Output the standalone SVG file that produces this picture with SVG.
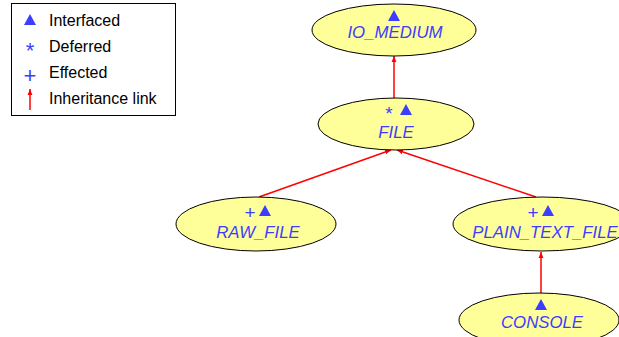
<svg xmlns="http://www.w3.org/2000/svg" width="619" height="337" viewBox="0 0 619 337">
<defs>
<style>
.node{fill:#ffff99;stroke:#000;stroke-width:1}
.name{font-family:"Liberation Sans",Arial,sans-serif;font-size:16.8px;font-style:italic;fill:#3d3dff;text-anchor:middle}
.sym{font-family:"Liberation Sans",Arial,sans-serif;font-size:22px;fill:#3d3dff;text-anchor:middle}
.nsym{font-family:"Liberation Sans",Arial,sans-serif;font-size:19px;fill:#3d3dff;text-anchor:middle}
.tri{fill:#3d3dff}
.leg{font-family:"Liberation Sans",Arial,sans-serif;font-size:16px;fill:#000}
.edge{stroke:#ff0000;stroke-width:1.5;fill:none}
</style>
<marker id="arr" viewBox="0 0 10 10" refX="10" refY="5" markerWidth="6" markerHeight="6" markerUnits="userSpaceOnUse" orient="auto">
<path d="M0,1 L10,5 L0,9 z" fill="#ff0000"/>
</marker>
<path id="t" d="M-6,5 L0,-6 L6,5 z"/>
</defs>
<rect width="619" height="337" fill="#fff"/>
<g id="legend">
<rect x="11.5" y="3.5" width="164" height="112" fill="#fff" stroke="#000"/>
<use href="#t" x="30" y="20" class="tri"/>
<text x="49" y="26" class="leg">Interfaced</text>
<text x="30" y="58" class="sym">*</text>
<text x="49" y="52" class="leg">Deferred</text>
<text x="30" y="83" class="sym">+</text>
<text x="49" y="78" class="leg">Effected</text>
<line x1="30" y1="110" x2="30" y2="89" class="edge" marker-end="url(#arr)"/>
<text x="49" y="104" class="leg">Inheritance link</text>
</g>
<g id="connectors">
<line x1="394" y1="98" x2="394" y2="56" class="edge" marker-end="url(#arr)"/>
<line x1="259" y1="197" x2="391" y2="150" class="edge" marker-end="url(#arr)"/>
<line x1="536" y1="197" x2="397" y2="150" class="edge" marker-end="url(#arr)"/>
<line x1="541" y1="293" x2="541" y2="252" class="edge" marker-end="url(#arr)"/>
</g>
<g id="IO_MEDIUM">
<ellipse cx="394" cy="30" rx="82" ry="26" class="node"/>
<use href="#t" x="394" y="16" class="tri"/>
<text x="395" y="38" class="name">IO_MEDIUM</text>
</g>
<g id="FILE">
<ellipse cx="396" cy="124" rx="78" ry="26" class="node"/>
<text x="389" y="120" class="nsym">*</text>
<use href="#t" x="406" y="110" class="tri"/>
<text x="396" y="138" class="name">FILE</text>
</g>
<g id="RAW_FILE">
<ellipse cx="256" cy="224" rx="80" ry="27" class="node"/>
<text x="250" y="219" class="nsym">+</text>
<use href="#t" x="265" y="211" class="tri"/>
<text x="258" y="238" class="name">RAW_FILE</text>
</g>
<g id="PLAIN_TEXT_FILE">
<ellipse cx="542" cy="224" rx="89" ry="27" class="node"/>
<text x="533" y="219" class="nsym">+</text>
<use href="#t" x="548" y="211" class="tri"/>
<text x="545" y="238" class="name">PLAIN_TEXT_FILE</text>
</g>
<g id="CONSOLE">
<ellipse cx="539" cy="320" rx="80" ry="27" class="node"/>
<use href="#t" x="541" y="305" class="tri"/>
<text x="542" y="328" class="name">CONSOLE</text>
</g>
</svg>
